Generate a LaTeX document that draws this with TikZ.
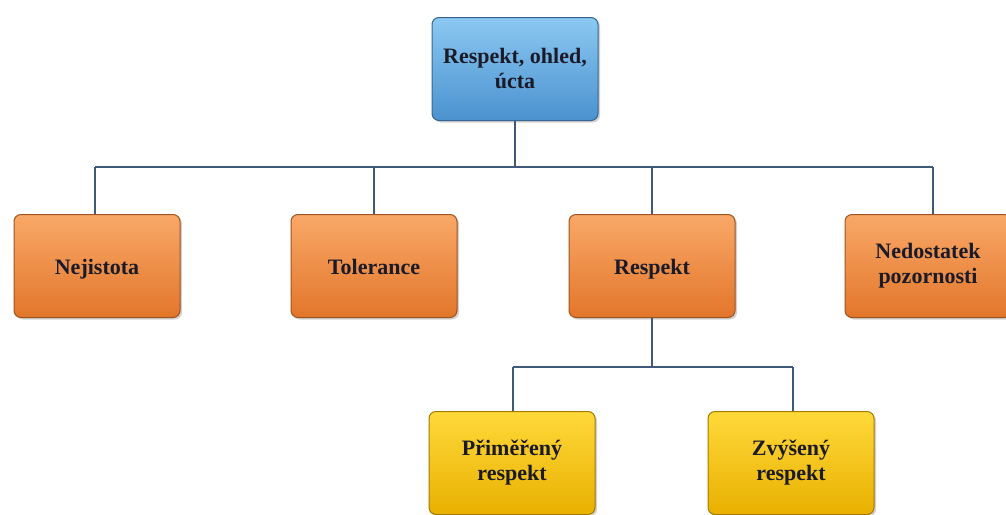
\documentclass[tikz,border=0pt]{standalone}
\usepackage{fontspec}
\setmainfont{Liberation Serif}
\usetikzlibrary{shadows}
\definecolor{lineblue}{HTML}{3F5A78}
\definecolor{bluetop}{HTML}{8CC8F2}
\definecolor{bluebot}{HTML}{4A92CF}
\definecolor{orgtop}{HTML}{F9A868}
\definecolor{orgbot}{HTML}{E2762A}
\definecolor{yeltop}{HTML}{FFD93A}
\definecolor{yelbot}{HTML}{E8B000}
\definecolor{inktext}{HTML}{1A1A28}
\tikzset{
  box/.style={rounded corners=7pt, minimum width=166pt, minimum height=103pt,
    align=center, font=\fontsize{22}{25}\selectfont\bfseries, text=inktext,
    line width=1pt, drop shadow={shadow xshift=2pt, shadow yshift=-2pt, opacity=0.35}},
  oneline/.style={text height=17pt, text depth=1pt},
  bluebox/.style={box, draw=bluebot!70!black, top color=bluetop, bottom color=bluebot},
  orangebox/.style={box, draw=orgbot!70!black, top color=orgtop, bottom color=orgbot},
  yellowbox/.style={box, draw=yelbot!70!black, top color=yeltop, bottom color=yelbot},
  link/.style={draw=lineblue, line width=1.6pt}
}
\begin{document}
\begin{tikzpicture}[x=1pt,y=-1pt]
\useasboundingbox (0,0) rectangle (1006,514);
\fill[white] (0,0) rectangle (1006,514);
% branch points of the tree
\coordinate (h1) at (95,167);
\coordinate (h2) at (933,167);
\coordinate (hm) at (515,167);
\coordinate (g1) at (513,367);
\coordinate (g2) at (793,367);
% boxes
\node[bluebox] (root) at (515,69) {Respekt, ohled,\\úcta};
\node[orangebox, oneline] (a) at (97,266) {Nejistota};
\node[orangebox, oneline] (b) at (374,266) {Tolerance};
\node[orangebox, oneline] (c) at (652,266) {Respekt};
\node[orangebox] (d) at (928,266) {Nedostatek\\pozornosti};
\node[yellowbox] (e) at (512,463) {Přiměřený\\respekt};
\node[yellowbox] (f) at (791,463) {Zvýšený\\respekt};
% connectors
\draw[link] (root.south) -- (hm);
\draw[link] (h1) -- (h2);
\draw[link] (h1) -- (h1 |- a.north);
\draw[link] (b.north |- h1) -- (b.north);
\draw[link] (c.north |- h1) -- (c.north);
\draw[link] (h2) -- (h2 |- d.north);
\draw[link] (c.south) -- (c.south |- g1);
\draw[link] (g1) -- (g2);
\draw[link] (g1) -- (g1 |- e.north);
\draw[link] (g2) -- (g2 |- f.north);
\end{tikzpicture}
\end{document}
